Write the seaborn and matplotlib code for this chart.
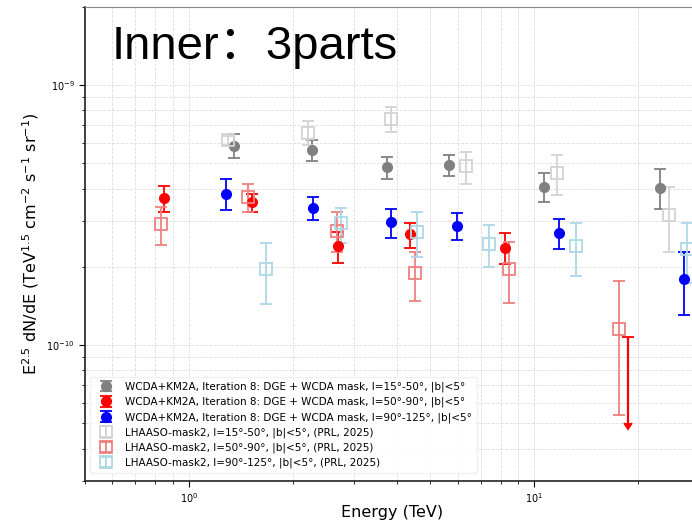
import matplotlib
matplotlib.use("Agg")
import matplotlib.pyplot as plt
import numpy as np
import pandas as pd
import seaborn as sns

# energies (TeV) and E^2.5 dN/dE values
e_gray = [1.35, 2.27, 3.74, 5.66, 10.64, 23.1]
f_gray = [5.84e-10, 5.63e-10, 4.84e-10, 4.94e-10, 4.07e-10, 4.03e-10]
lo_gray = [5.23e-10, 5.13e-10, 4.34e-10, 4.49e-10, 3.56e-10, 3.34e-10]
hi_gray = [6.47e-10, 6.13e-10, 5.29e-10, 5.38e-10, 4.58e-10, 4.77e-10]

e_red = [0.846, 1.52, 2.70, 4.36, 8.25]
f_red = [3.68e-10, 3.56e-10, 2.40e-10, 2.68e-10, 2.36e-10]
lo_red = [3.25e-10, 3.26e-10, 2.07e-10, 2.37e-10, 2.05e-10]
hi_red = [4.09e-10, 3.83e-10, 2.73e-10, 2.96e-10, 2.69e-10]
e_red_ul = [18.7]
f_red_ul = [1.07e-10]
lo_red_ul = [5.0e-11]

e_blue = [1.28, 2.28, 3.86, 5.99, 11.83, 27.2]
f_blue = [3.82e-10, 3.37e-10, 2.97e-10, 2.87e-10, 2.71e-10, 1.79e-10]
lo_blue = [3.32e-10, 3.04e-10, 2.59e-10, 2.53e-10, 2.35e-10, 1.31e-10]
hi_blue = [4.34e-10, 3.73e-10, 3.35e-10, 3.21e-10, 3.07e-10, 2.29e-10]

e_lgray = [1.30, 2.21, 3.85, 6.34, 11.65, 24.5]
f_lgray = [6.13e-10, 6.57e-10, 7.39e-10, 4.88e-10, 4.60e-10, 3.16e-10]
lo_lgray = [5.87e-10, 5.87e-10, 6.59e-10, 4.18e-10, 3.79e-10, 2.29e-10]
hi_lgray = [6.35e-10, 7.26e-10, 8.22e-10, 5.53e-10, 5.37e-10, 4.06e-10]

e_pink = [0.829, 1.48, 2.69, 4.51, 8.47, 17.6]
f_pink = [2.93e-10, 3.72e-10, 2.76e-10, 1.89e-10, 1.96e-10, 1.15e-10]
lo_pink = [2.43e-10, 3.26e-10, 2.29e-10, 1.48e-10, 1.45e-10, 5.4e-11]
hi_pink = [3.41e-10, 4.16e-10, 3.24e-10, 2.29e-10, 2.50e-10, 1.77e-10]

e_lblue = [1.67, 2.75, 4.57, 7.38, 13.2, 27.7]
f_lblue = [1.96e-10, 2.94e-10, 2.73e-10, 2.45e-10, 2.41e-10, 2.35e-10]
lo_lblue = [1.44e-10, 2.48e-10, 2.19e-10, 2.00e-10, 1.85e-10, 1.74e-10]
hi_lblue = [2.48e-10, 3.38e-10, 3.26e-10, 2.90e-10, 2.96e-10, 2.96e-10]

labels = [
    "WCDA+KM2A, Iteration 8: DGE + WCDA mask, l=15°-50°, |b|<5°",
    "WCDA+KM2A, Iteration 8: DGE + WCDA mask, l=50°-90°, |b|<5°",
    "WCDA+KM2A, Iteration 8: DGE + WCDA mask, l=90°-125°, |b|<5°",
    "LHAASO-mask2, l=15°-50°, |b|<5°, (PRL, 2025)",
    "LHAASO-mask2, l=50°-90°, |b|<5°, (PRL, 2025)",
    "LHAASO-mask2, l=90°-125°, |b|<5°, (PRL, 2025)",
]

sns.set_style("ticks")
plt.rcParams["font.family"] = ["DejaVu Sans"]
plt.rcParams["text.color"] = "black"
plt.rcParams["axes.labelcolor"] = "black"
plt.rcParams["xtick.color"] = "black"
plt.rcParams["ytick.color"] = "black"

fig = plt.figure(figsize=(6.92, 5.23), dpi=100)
ax = fig.add_axes([0.1228, 0.0803, 0.8873, 0.9063])


def draw(e, f, lo, hi, color, marker, label, hollow=False):
    df = pd.DataFrame({"e": e, "f": f, "lo": lo, "hi": hi})
    yerr = [df["f"] - df["lo"], df["hi"] - df["f"]]
    kw = dict(fmt=marker, color=color, ecolor=color, capsize=4, elinewidth=1.3,
              capthick=1.3, label=label)
    if hollow:
        kw.update(markerfacecolor="none", markersize=8, markeredgewidth=1.3)
    else:
        kw.update(markersize=7)
    ax.errorbar(df["e"], df["f"], yerr=yerr, **kw)


draw(e_gray, f_gray, lo_gray, hi_gray, "gray", "o", labels[0])
draw(e_red, f_red, lo_red, hi_red, "red", "o", labels[1])
draw(e_blue, f_blue, lo_blue, hi_blue, "blue", "o", labels[2])
draw(e_lgray, f_lgray, lo_lgray, hi_lgray, "lightgray", "s", labels[3], hollow=True)
draw(e_pink, f_pink, lo_pink, hi_pink, "lightcoral", "s", labels[4], hollow=True)
draw(e_lblue, f_lblue, lo_lblue, hi_lblue, "lightblue", "s", labels[5], hollow=True)

# upper limit
ul_err = [np.array(f_red_ul) - np.array(lo_red_ul), np.zeros(1)]
ax.errorbar(e_red_ul, f_red_ul, yerr=ul_err, uplims=True, fmt="_", color="red",
            markersize=9, markeredgewidth=1.3, elinewidth=1.6, capsize=0)

ax.set_xscale("log")
ax.set_yscale("log")
ax.set_xlim(0.5, 30)
ax.set_ylim(3e-11, 2e-9)
ax.grid(True, which="both", linestyle="--", linewidth=0.6, color="#dddddd")
ax.tick_params(axis="both", which="major", labelsize=7, length=4)
ax.tick_params(axis="both", which="minor", length=2.5)

for s in ["left", "bottom"]:
    ax.spines[s].set_color("#222222")
    ax.spines[s].set_linewidth(1.2)
ax.spines["top"].set_color("#888888")

ax.set_xlabel("Energy (TeV)", fontsize=11.5, labelpad=0)
ax.set_ylabel(r"E$^{2.5}$ dN/dE (TeV$^{1.5}$ cm$^{-2}$ s$^{-1}$ sr$^{-1}$)", fontsize=11.5)

ax.text(0.043, 0.963, "Inner：3parts", transform=ax.transAxes, fontsize=34,
        va="top", ha="left", color="black",
        family=["Liberation Sans", "Noto Sans CJK SC"])

ax.legend(loc="lower left", fontsize=7.5, frameon=True, framealpha=0.8,
          edgecolor="#eeeeee", borderpad=0.5, handletextpad=0.8,
          labelspacing=0.45, bbox_to_anchor=(0.0, 0.005))

fig.savefig("out.png", dpi=100)
